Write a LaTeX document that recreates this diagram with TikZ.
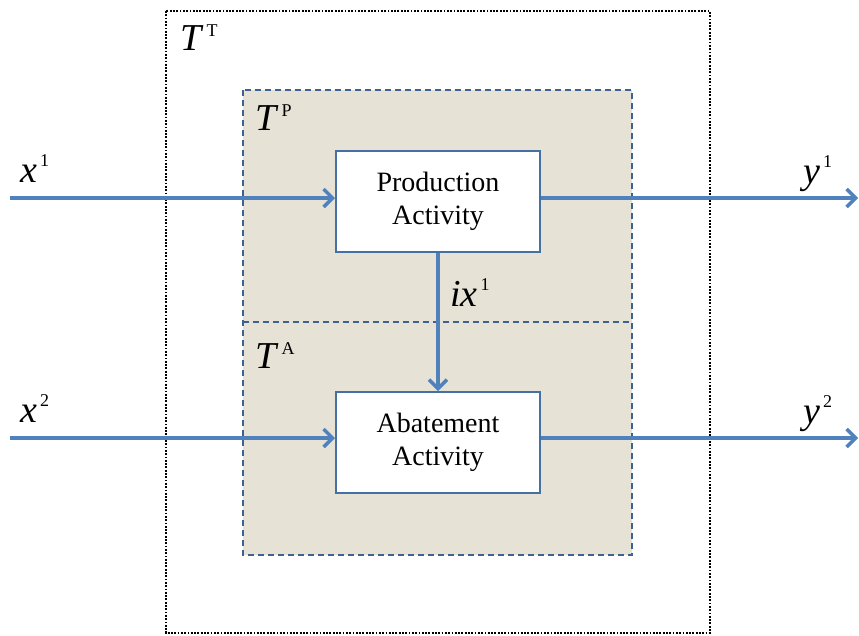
\documentclass[tikz,border=0pt]{standalone}
\usepackage{fontspec}
\setmainfont{Liberation Serif}
\usetikzlibrary{arrows.meta}
\definecolor{arrowblue}{HTML}{4F81BD}
\definecolor{boxblue}{HTML}{4470A6}
\definecolor{dashblue}{HTML}{3D6190}
\definecolor{beige}{HTML}{E6E2D6}
\newcommand{\mylbl}[3]{{\fontsize{38}{38}\selectfont\textit{#1}}\kern3pt\raisebox{#3}{\fontsize{18}{18}\selectfont #2}}
\tikzset{
  flow/.style={draw=arrowblue, line width=3.5pt, -{Straight Barb[length=9pt,width=18pt,line width=3.5pt]}},
  activity/.style={draw=boxblue, line width=2pt, fill=white, minimum width=204pt, minimum height=101pt, align=center, font=\fontsize{28}{33}\selectfont, inner sep=0pt},
  lbl/.style={anchor=base west, inner sep=0pt}
}
\begin{document}
\begin{tikzpicture}[x=1pt,y=-1pt]
\useasboundingbox (0,0) rectangle (859,635);
% outer dotted box
\draw[black, line width=2.6pt, dash pattern=on 1.8pt off 1.5pt] (166,11) rectangle (710,633);
% inner beige box
\draw[dashblue, fill=beige, line width=1.8pt, dash pattern=on 6pt off 4pt] (243,90) rectangle (632,555);
\draw[dashblue, line width=1.8pt, dash pattern=on 6pt off 4pt] (243,322) -- (632,322);
% activity boxes
\node[activity] (prod) at (438,201.5) {Production\\Activity};
\node[activity] (abat) at (438,442.5) {Abatement\\Activity};
% flows
\coordinate (in1) at (10,198);
\coordinate (in2) at (10,438);
\coordinate (out1) at (858,198);
\coordinate (out2) at (858,438);
\draw[flow] (in1) -- (in1 -| prod.west);
\draw[flow] (in2) -- (in2 -| abat.west);
\draw[flow] (out1 -| prod.east) -- (out1);
\draw[flow] (out2 -| abat.east) -- (out2);
\draw[flow] (prod.south) -- (abat.north);
% labels
\node[lbl] (tt) at (180,50) {\mylbl{T}{T}{14pt}};
\node[lbl] (tp) at (255,130) {\mylbl{T}{P}{14pt}};
\node[lbl] (ta) at (255,368) {\mylbl{T}{A}{14pt}};
\node[lbl] (x1) at (20,182) {\mylbl{x}{1}{16pt}};
\node[lbl] (x2) at (20,422) {\mylbl{x}{2}{16pt}};
\node[lbl] (y1) at (803,183) {\mylbl{y}{1}{16pt}};
\node[lbl] (y2) at (803,423) {\mylbl{y}{2}{16pt}};
\node[lbl] (ix) at (450,306) {\mylbl{ix}{1}{16pt}};
\end{tikzpicture}
\end{document}
